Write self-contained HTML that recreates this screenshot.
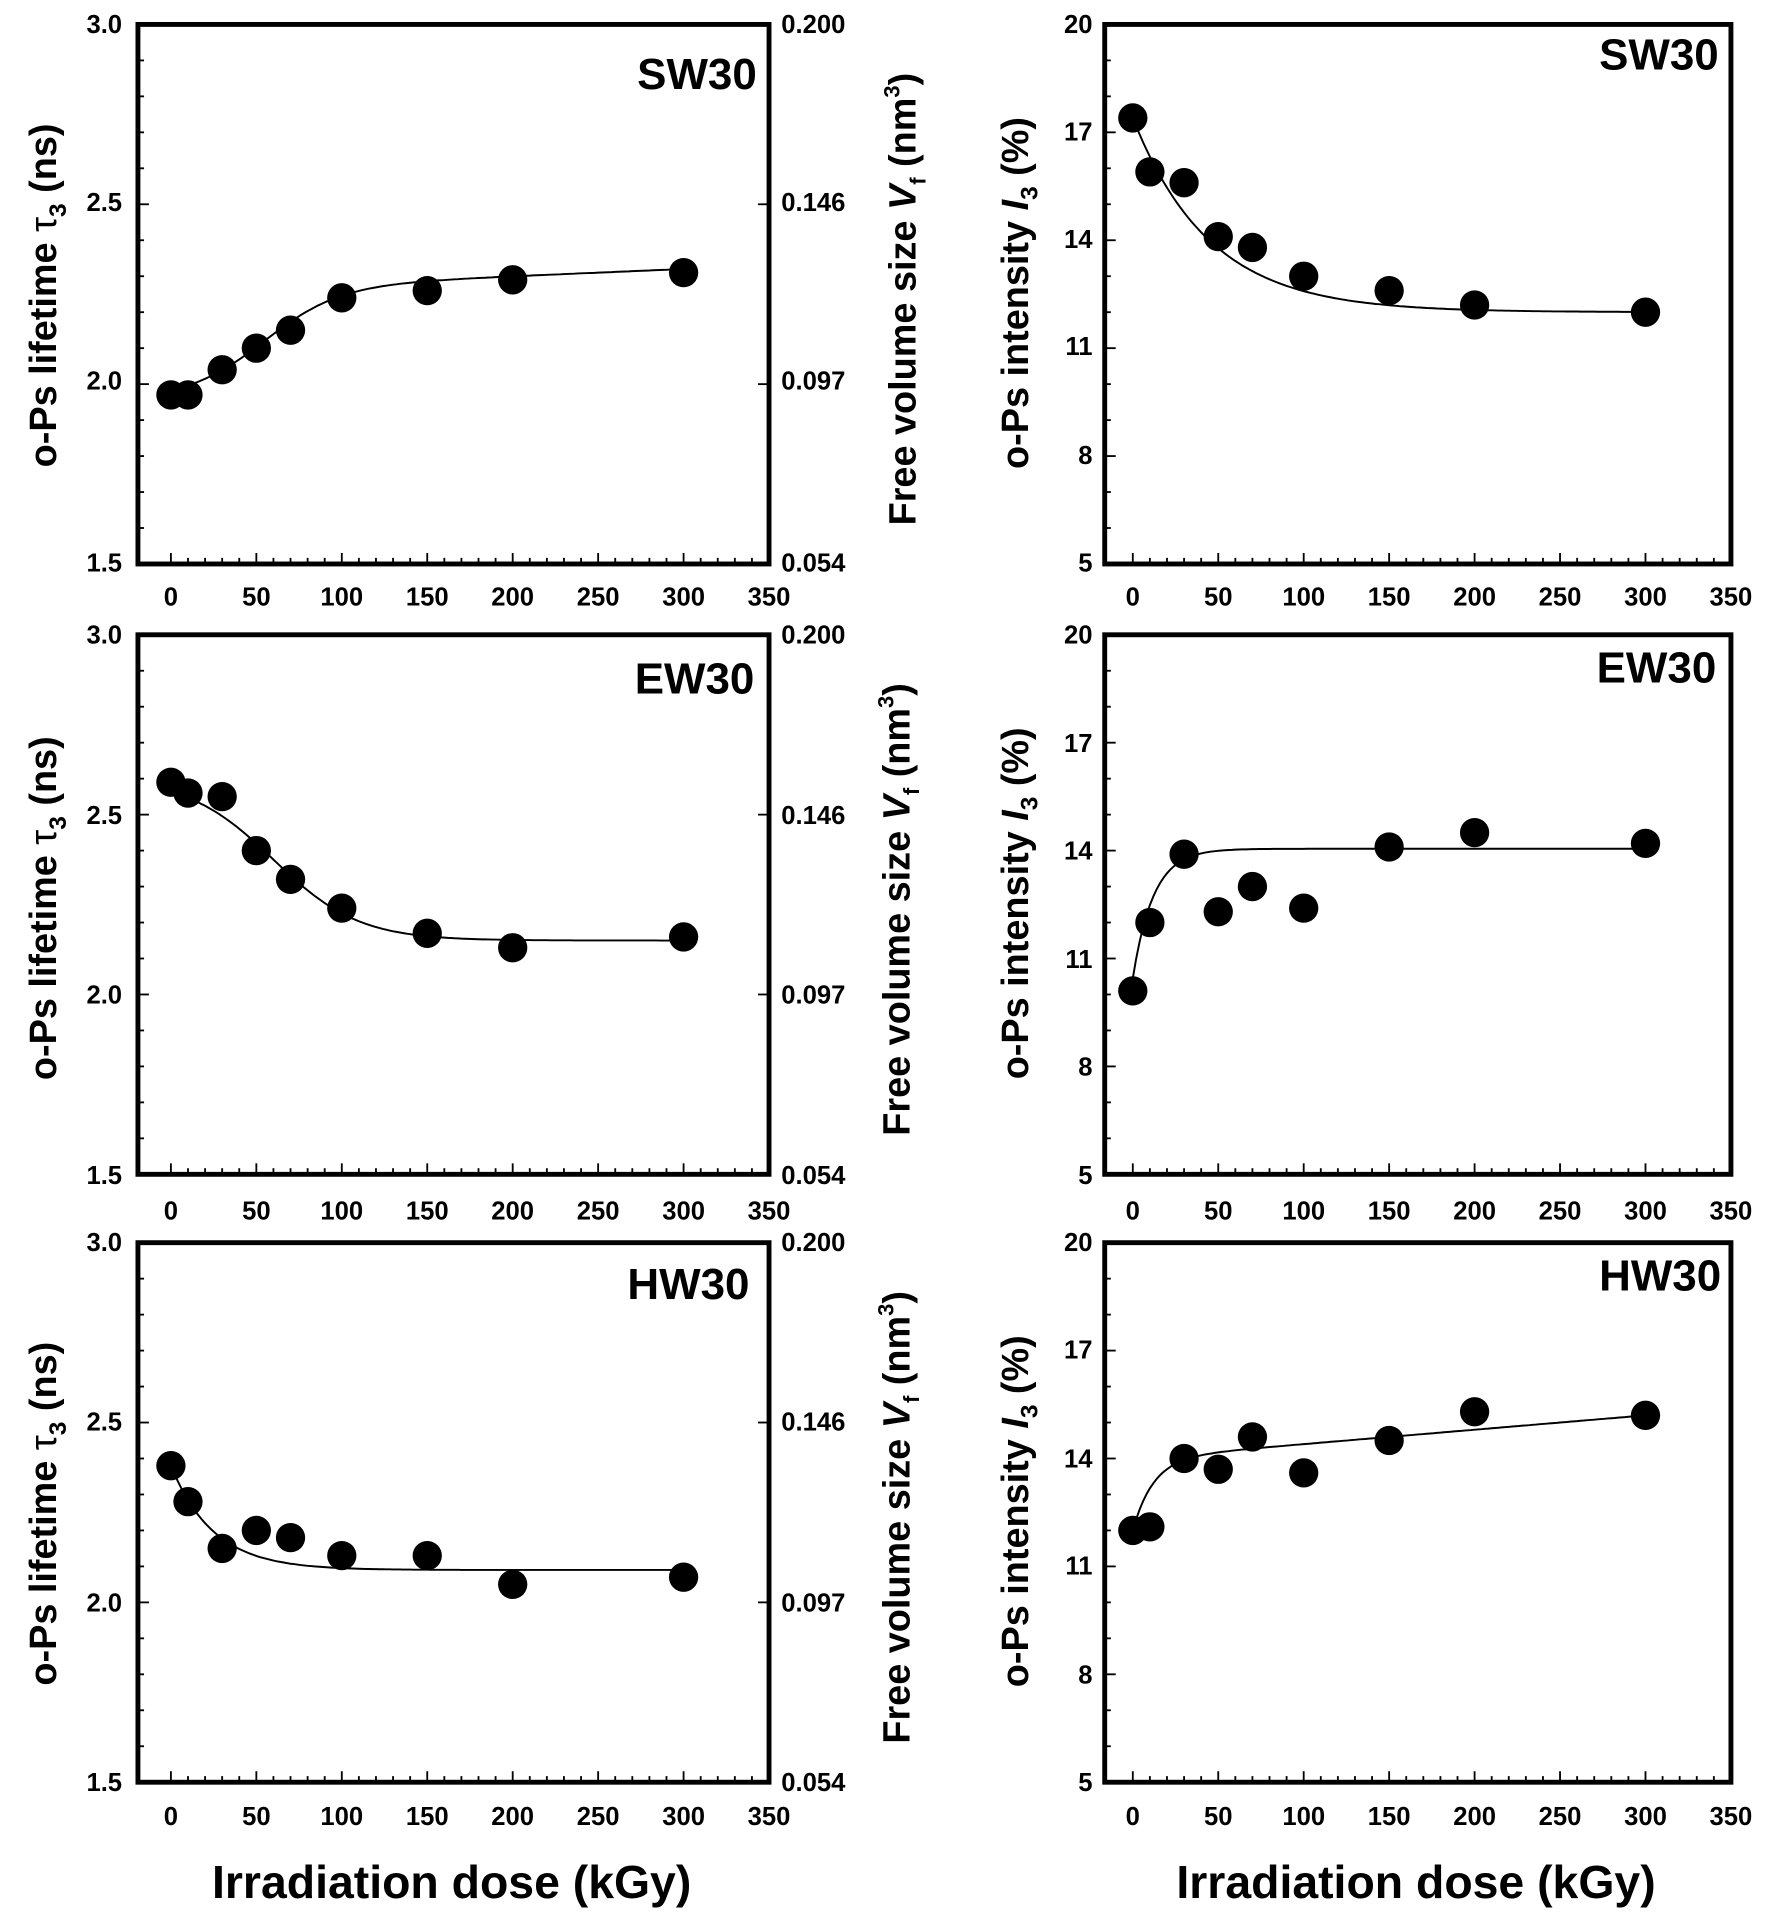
<!DOCTYPE html>
<html><head><meta charset="utf-8"><style>
html,body{margin:0;padding:0;background:#fff}
svg{display:block}
text{font-family:"Liberation Sans",Arial,sans-serif;font-weight:bold;fill:#000}
.tk{font-size:21px}
.yl{font-size:31px}
.pl{font-size:36px}
.xt{font-size:38px}
</style></head><body>
<svg id="s" width="1770" height="1912" viewBox="0 0 1450 1566.3" xmlns="http://www.w3.org/2000/svg">
<g id="g"></g>
<g class="tk" text-anchor="end">
<text x="100" y="27">3.0</text><text x="100" y="173">2.5</text><text x="100" y="319">2.0</text><text x="100" y="468">1.5</text>
<text x="100" y="527">3.0</text><text x="100" y="675">2.5</text><text x="100" y="822">2.0</text><text x="100" y="970">1.5</text>
<text x="100" y="1025">3.0</text><text x="100" y="1172">2.5</text><text x="100" y="1320">2.0</text><text x="100" y="1467">1.5</text>
</g>
<g class="tk" text-anchor="start">
<text x="640" y="27">0.200</text><text x="640" y="173">0.146</text><text x="640" y="319">0.097</text><text x="640" y="468">0.054</text>
<text x="640" y="527">0.200</text><text x="640" y="675">0.146</text><text x="640" y="822">0.097</text><text x="640" y="970">0.054</text>
<text x="640" y="1025">0.200</text><text x="640" y="1172">0.146</text><text x="640" y="1320">0.097</text><text x="640" y="1467">0.054</text>
</g>
<g class="tk" text-anchor="end">
<text x="895" y="27">20</text><text x="895" y="115">17</text><text x="895" y="203">14</text><text x="895" y="291">11</text><text x="895" y="380">8</text><text x="895" y="468">5</text>
<text x="895" y="527">20</text><text x="895" y="616">17</text><text x="895" y="704">14</text><text x="895" y="793">11</text><text x="895" y="881">8</text><text x="895" y="970">5</text>
<text x="895" y="1025">20</text><text x="895" y="1113">17</text><text x="895" y="1202">14</text><text x="895" y="1290">11</text><text x="895" y="1379">8</text><text x="895" y="1467">5</text>
</g>
<g class="tk" text-anchor="middle">
<text x="140" y="496">0</text><text x="210" y="496">50</text><text x="280" y="496">100</text><text x="350" y="496">150</text><text x="420" y="496">200</text><text x="490" y="496">250</text><text x="560" y="496">300</text><text x="630" y="496">350</text>
<text x="140" y="999">0</text><text x="210" y="999">50</text><text x="280" y="999">100</text><text x="350" y="999">150</text><text x="420" y="999">200</text><text x="490" y="999">250</text><text x="560" y="999">300</text><text x="630" y="999">350</text>
<text x="140" y="1495">0</text><text x="210" y="1495">50</text><text x="280" y="1495">100</text><text x="350" y="1495">150</text><text x="420" y="1495">200</text><text x="490" y="1495">250</text><text x="560" y="1495">300</text><text x="630" y="1495">350</text>
<text x="928" y="496">0</text><text x="998" y="496">50</text><text x="1068" y="496">100</text><text x="1138" y="496">150</text><text x="1208" y="496">200</text><text x="1278" y="496">250</text><text x="1348" y="496">300</text><text x="1418" y="496">350</text>
<text x="928" y="999">0</text><text x="998" y="999">50</text><text x="1068" y="999">100</text><text x="1138" y="999">150</text><text x="1208" y="999">200</text><text x="1278" y="999">250</text><text x="1348" y="999">300</text><text x="1418" y="999">350</text>
<text x="928" y="1495">0</text><text x="998" y="1495">50</text><text x="1068" y="1495">100</text><text x="1138" y="1495">150</text><text x="1208" y="1495">200</text><text x="1278" y="1495">250</text><text x="1348" y="1495">300</text><text x="1418" y="1495">350</text>
</g>
<g class="pl" text-anchor="end">
<text x="620" y="73">SW30</text><text x="1408" y="57">SW30</text>
<text x="618" y="568">EW30</text><text x="1406" y="559">EW30</text>
<text x="614" y="1064">HW30</text><text x="1410" y="1057">HW30</text>
</g>
<g class="yl" text-anchor="middle">
<text transform="translate(46,242) rotate(-90)">o-Ps lifetime <tspan font-weight="normal">τ</tspan><tspan font-size="20" dy="8">3</tspan><tspan dy="-8"> (ns)</tspan></text>
<text transform="translate(46,744) rotate(-90)">o-Ps lifetime <tspan font-weight="normal">τ</tspan><tspan font-size="20" dy="8">3</tspan><tspan dy="-8"> (ns)</tspan></text>
<text transform="translate(46,1240) rotate(-90)">o-Ps lifetime <tspan font-weight="normal">τ</tspan><tspan font-size="20" dy="8">3</tspan><tspan dy="-8"> (ns)</tspan></text>
<text transform="translate(750,245) rotate(-90)">Free volume size <tspan font-style="italic">V</tspan><tspan font-size="18" dy="8">f</tspan><tspan dy="-8"> (nm</tspan><tspan font-size="18" dy="-13">3</tspan><tspan dy="13">)</tspan></text>
<text transform="translate(745,745) rotate(-90)">Free volume size <tspan font-style="italic">V</tspan><tspan font-size="18" dy="8">f</tspan><tspan dy="-8"> (nm</tspan><tspan font-size="18" dy="-13">3</tspan><tspan dy="13">)</tspan></text>
<text transform="translate(745,1243) rotate(-90)">Free volume size <tspan font-style="italic">V</tspan><tspan font-size="18" dy="8">f</tspan><tspan dy="-8"> (nm</tspan><tspan font-size="18" dy="-13">3</tspan><tspan dy="13">)</tspan></text>
<text transform="translate(842,240) rotate(-90)">o-Ps intensity <tspan font-style="italic">I</tspan><tspan font-size="20" dy="8">3</tspan><tspan dy="-8"> (%)</tspan></text>
<text transform="translate(842,740) rotate(-90)">o-Ps intensity <tspan font-style="italic">I</tspan><tspan font-size="20" dy="8">3</tspan><tspan dy="-8"> (%)</tspan></text>
<text transform="translate(842,1238) rotate(-90)">o-Ps intensity <tspan font-style="italic">I</tspan><tspan font-size="20" dy="8">3</tspan><tspan dy="-8"> (%)</tspan></text>
</g>
<g class="xt" text-anchor="middle">
<text x="370" y="1555">Irradiation dose (kGy)</text>
<text x="1160" y="1555">Irradiation dose (kGy)</text>
</g>
</svg>
<script>
var g=document.getElementById('g'),NS='http://www.w3.org/2000/svg';
function el(t,a){var e=document.createElementNS(NS,t);for(var k in a)e.setAttribute(k,a[k]);g.appendChild(e);return e;}
var D=[0,10,30,50,70,100,150,200,300];
var rows=[20,520,1018];
var H=442;
var panels=[
 {c:0,r:0,d:[1.97,1.97,2.04,2.10,2.15,2.24,2.26,2.29,2.31],f:function(d){return 1.96+0.30/(1+Math.exp(-(d-55)/22))+0.0002*d;}},
 {c:0,r:1,d:[2.59,2.56,2.55,2.40,2.32,2.24,2.17,2.13,2.16],f:function(d){return 2.15+0.45/(1+Math.exp((d-60)/25));}},
 {c:0,r:2,d:[2.38,2.28,2.15,2.20,2.18,2.13,2.13,2.05,2.07],f:function(d){return 2.09+0.29*Math.exp(-d/25);}},
 {c:1,r:0,d:[17.4,15.9,15.6,14.1,13.8,13.0,12.6,12.2,12.0],f:function(d){return 12.0+5.4*Math.exp(-d/45);}},
 {c:1,r:1,d:[10.1,12.0,13.9,12.3,13.0,12.4,14.1,14.5,14.2],f:function(d){return 14.05-3.6*Math.exp(-d/12);}},
 {c:1,r:2,d:[12.0,12.1,14.0,13.7,14.6,13.6,14.5,15.3,15.2],f:function(d){return 12.0+2.0*(1-Math.exp(-d/12))+0.004*d;}}
];
panels.forEach(function(p){
 var T=rows[p.r], x0=p.c?928:140, L=p.c?905:113, R=p.c?1418:630, B=T+H;
 var X=function(d){return x0+1.4*d;};
 var Y=p.c?function(v){return T+(20-v)/15*H;}:function(v){return T+(3-v)/1.5*H;};
 for(var d=0;d<=340;d+=10){var mj=d%50==0;el('line',{x1:X(d),x2:X(d),y1:B,y2:B-(mj?9:5),stroke:'#000','stroke-width':1.5});}
 if(p.c){for(var v=5;v<=20;v++){var mj=(v-5)%3==0;el('line',{x1:L,x2:L+(mj?9:5),y1:Y(v),y2:Y(v),stroke:'#000','stroke-width':1.5});}}
 else{for(var i=15;i<=30;i++){var v=i/10,mj=i%5==0;el('line',{x1:L,x2:L+(mj?9:5),y1:Y(v),y2:Y(v),stroke:'#000','stroke-width':1.5});if(mj)el('line',{x1:R,x2:R-9,y1:Y(v),y2:Y(v),stroke:'#000','stroke-width':1.5});}}
 el('rect',{x:L,y:T,width:R-L,height:H,fill:'none',stroke:'#000','stroke-width':4});
 var pts=[];for(var d=0;d<=300;d+=2)pts.push(X(d).toFixed(1)+','+Y(p.f(d)).toFixed(1));
 el('polyline',{points:pts.join(' '),fill:'none',stroke:'#000','stroke-width':1.6});
 p.d.forEach(function(v,i){el('ellipse',{cx:X(D[i]),cy:Y(v),rx:12,ry:12,fill:'#000'});});
});
</script>
</body></html>
